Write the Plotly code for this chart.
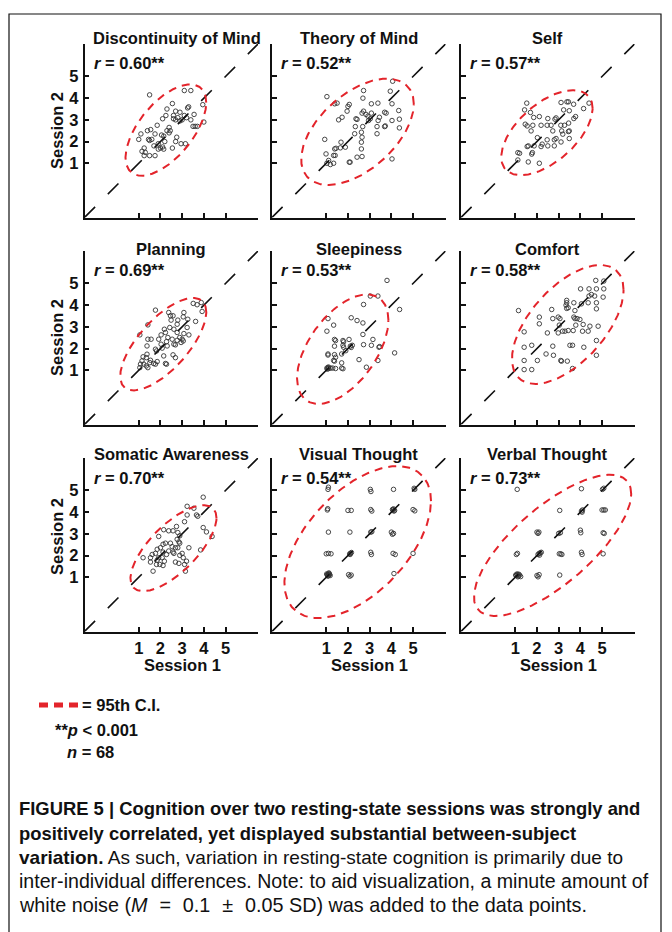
import numpy as np
import plotly.graph_objects as go

PAGE_W, PAGE_H = 672, 932
OFF = 8                      # default page body margin of the html page
W, H = PAGE_W - OFF, PAGE_H - OFF

panel_titles = ["Discontinuity of Mind", "Theory of Mind", "Self",
                "Planning", "Sleepiness", "Comfort",
                "Somatic Awareness", "Visual Thought", "Verbal Thought"]
r_values = [0.60, 0.52, 0.57, 0.69, 0.53, 0.58, 0.70, 0.54, 0.73]
tick_values = [1, 2, 3, 4, 5]
tick_labels = ["1", "2", "3", "4", "5"]
axis_range = [-1.5, 6.5]
n_subjects = 68

# Session 1 (x) / Session 2 (y) ratings per panel
disc_s1 = [1.5, 3.1, 3.4, 3.95, 4.0, 3.7, 3.5, 3.6, 3.55, 3.25, 3.3, 2.9, 3.1, 2.8, 3.0, 2.55, 2.3, 2.25, 2.1, 2.6,
           2.6, 2.7, 1.85, 1.55, 1.4, 1.1, 1.0, 1.45, 1.5, 1.75, 2.3, 2.4, 2.15, 1.9, 1.9, 2.0, 2.1, 1.7, 1.25, 1.15,
           1.3, 1.75, 1.5, 1.25, 2.15, 2.2, 2.55, 2.7, 2.95, 3.15, 2.75, 2.45, 2.4, 2.05, 1.6, 2.9, 3.2, 2.7, 3.4]
disc_s2 = [4.15, 4.35, 4.35, 3.7, 2.9, 2.7, 2.7, 2.7, 3.25, 3.55, 3.6, 3.35, 3.2, 3.1, 3.0, 3.75, 3.5, 3.2, 3.05, 3.2,
           3.05, 3.0, 2.75, 2.55, 2.5, 2.35, 2.1, 2.1, 2.05, 2.35, 2.5, 2.4, 2.25, 1.9, 1.65, 1.7, 1.75, 1.8, 1.7, 1.55,
           1.5, 1.35, 1.35, 1.35, 1.65, 2.0, 1.7, 2.0, 1.9, 1.9, 2.2, 2.5, 2.65, 2.3, 2.1, 2.95, 3.1, 3.4, 3.0]

tom_s1 = [1.03, 1.39, 1.5, 2.06, 2.0, 1.96, 1.73, 1.57, 2.72, 2.69, 3.08, 3.38, 4.06, 3.95, 4.03, 4.34, 4.37, 4.03, 4.37, 3.69,
          3.72, 3.34, 3.34, 3.69, 3.76, 3.45, 3.39, 3.08, 3.03, 2.95, 2.72, 2.65, 2.83, 2.92, 2.37, 2.42, 2.34, 2.68, 2.31, 2.62,
          2.65, 2.62, 2.62, 2.42, 2.65, 2.06, 2.1, 1.68, 1.39, 1.45, 1.65, 1.88, 0.93, 0.99, 1.11, 1.03, 1.19, 1.34, 1.41, 1.34,
          4.03]
tom_s2 = [4.07, 3.74, 3.77, 3.71, 3.62, 3.4, 3.12, 3.0, 4.35, 4.0, 3.74, 3.77, 4.78, 4.32, 3.74, 3.43, 3.03, 2.97, 2.63, 2.69,
          2.72, 2.69, 2.36, 3.35, 3.31, 3.12, 2.97, 3.31, 3.05, 2.97, 3.4, 3.31, 3.25, 3.17, 3.05, 3.02, 2.69, 2.69, 2.36, 2.43,
          2.2, 1.97, 1.66, 1.28, 1.31, 1.05, 1.05, 1.97, 1.66, 1.69, 1.71, 1.74, 2.1, 1.43, 1.13, 1.0, 0.94, 1.36, 1.36, 1.0,
          1.2]

self_s1 = [1.53, 1.43, 1.7, 1.85, 2.11, 1.46, 1.55, 1.81, 1.73, 2.19, 2.47, 2.5, 2.88, 2.83, 2.65, 3.1, 2.73, 3.11, 3.38, 3.45,
           3.69, 3.23, 3.49, 3.78, 3.7, 3.46, 3.27, 3.49, 3.45, 3.14, 3.19, 2.88, 2.8, 3.11, 3.49, 2.47, 2.5, 2.24, 2.19, 2.02,
           1.87, 1.6, 1.55, 1.79, 1.76, 1.12, 1.2, 1.12, 1.6, 2.11, 4.15, 4.4, 2.8]
self_s2 = [3.77, 3.46, 3.34, 3.11, 3.15, 2.8, 2.72, 2.75, 2.49, 2.75, 2.75, 3.06, 3.09, 3.03, 2.75, 2.75, 2.49, 3.8, 3.83, 3.83,
           3.72, 3.46, 3.42, 3.15, 3.06, 2.85, 2.75, 2.49, 2.46, 2.49, 2.34, 2.14, 2.08, 1.98, 2.14, 2.08, 1.8, 1.88, 1.77, 2.18,
           1.8, 1.8, 1.77, 1.49, 1.42, 1.49, 1.46, 1.15, 1.06, 1.0, 3.52, 3.77, 1.8]

plan_s1 = [1.77, 1.42, 1.05, 1.42, 1.57, 2.03, 2.18, 2.23, 1.92, 2.34, 2.46, 2.58, 2.49, 2.8, 2.77, 3.08, 3.05, 3.26, 3.23, 2.77,
           3.08, 3.31, 2.89, 3.0, 3.05, 2.54, 2.62, 2.69, 2.28, 2.31, 2.03, 2.08, 1.77, 1.82, 1.38, 1.38, 1.35, 1.2, 1.15, 1.08,
           1.05, 1.23, 1.35, 1.42, 1.51, 1.54, 1.69, 1.77, 1.85, 2.15, 2.23, 2.28, 2.58, 2.69, 2.77, 2.95, 3.51, 3.69, 3.88, 3.92,
           3.62, 2.43, 2.62, 2.38]
plan_s2 = [3.77, 3.09, 2.63, 2.43, 2.43, 2.63, 2.89, 2.74, 2.43, 2.51, 3.51, 3.51, 3.31, 3.31, 3.12, 3.66, 3.46, 3.35, 2.97, 2.74,
           2.69, 2.63, 2.51, 2.43, 2.35, 2.43, 2.2, 2.17, 2.32, 2.12, 2.2, 2.02, 1.97, 1.89, 2.12, 1.74, 1.58, 1.62, 1.43, 1.28,
           1.12, 1.28, 1.2, 1.12, 1.35, 1.46, 1.31, 1.28, 1.4, 1.66, 1.31, 1.28, 1.71, 1.58, 2.38, 2.28, 4.08, 4.02, 4.12, 3.71,
           3.25, 2.97, 2.89, 3.66]

sleep_s1 = [3.8, 3.03, 3.38, 2.72, 4.38, 2.15, 2.42, 2.69, 1.08, 1.34, 1.03, 2.69, 1.38, 1.43, 1.77, 1.8, 2.05, 1.38, 1.77, 1.8,
            2.72, 3.08, 3.15, 3.43, 3.46, 2.11, 1.71, 1.08, 1.08, 1.38, 1.43, 1.34, 1.38, 1.71, 2.51, 3.38, 2.85, 4.15, 1.03, 1.08,
            1.12, 1.2, 1.3, 1.43, 1.71, 1.77, 1.1, 1.05, 2.2, 2.15, 1.9]
sleep_s2 = [5.14, 4.42, 4.42, 4.03, 3.8, 3.42, 3.29, 3.18, 3.38, 3.08, 2.8, 2.65, 2.42, 2.37, 2.37, 2.31, 2.42, 2.11, 2.15, 2.06,
            2.18, 2.15, 2.42, 2.06, 2.09, 2.11, 1.75, 1.75, 1.7, 1.72, 1.6, 1.45, 1.42, 1.34, 1.49, 1.45, 1.14, 1.8, 1.1, 1.12,
            1.08, 1.1, 1.1, 1.08, 1.1, 1.07, 1.15, 1.05, 2.15, 2.05, 1.9]

comf_s1 = [1.15, 1.41, 1.41, 1.76, 1.41, 2.02, 1.41, 1.76, 2.11, 2.11, 2.48, 2.42, 2.76, 2.73, 2.68, 2.73, 2.98, 3.06, 3.03, 2.98,
           3.18, 3.29, 3.1, 3.13, 3.4, 3.37, 3.37, 3.34, 3.37, 3.44, 3.7, 3.75, 3.7, 3.75, 3.85, 3.98, 3.79, 3.44, 3.67, 4.13,
           4.44, 4.82, 4.1, 4.36, 4.01, 4.4, 4.05, 4.36, 4.51, 4.4, 4.66, 4.74, 4.71, 5.08, 5.05, 4.74, 4.74, 5.08, 3.52, 3.64,
           4.16, 4.74, 4.74, 3.64]
comf_s2 = [3.75, 2.77, 2.06, 2.15, 1.45, 1.45, 1.03, 1.03, 3.45, 3.14, 2.72, 1.75, 1.69, 2.11, 3.8, 3.38, 3.45, 3.38, 3.08, 2.72,
           2.8, 2.8, 1.45, 1.42, 1.42, 4.22, 4.11, 4.0, 3.85, 3.88, 4.11, 3.75, 3.45, 3.38, 3.38, 3.34, 3.08, 2.83, 2.83, 3.11,
           3.03, 3.03, 2.8, 2.8, 4.75, 4.75, 4.06, 4.11, 4.49, 4.42, 4.42, 4.75, 5.14, 4.75, 4.37, 4.11, 3.83, 5.11, 2.15, 2.15,
           2.06, 2.37, 1.69, 1.08]

soma_s1 = [3.97, 3.54, 3.23, 3.66, 3.72, 3.11, 3.97, 4.12, 4.38, 3.85, 3.31, 2.74, 2.58, 2.38, 2.15, 2.8, 2.89, 1.92, 2.23, 2.46,
           2.77, 2.85, 2.89, 2.54, 2.69, 2.8, 2.12, 2.0, 1.85, 1.77, 2.12, 2.28, 2.08, 2.18, 2.62, 2.89, 3.0, 3.05, 3.2, 2.69,
           2.85, 2.38, 2.58, 1.62, 1.54, 1.54, 1.92, 1.85, 1.82, 1.97, 2.12, 1.2, 1.66, 3.11, 3.15, 3.23]
soma_s2 = [4.69, 4.18, 3.87, 3.87, 3.81, 3.56, 3.29, 3.09, 2.88, 2.26, 2.36, 3.34, 3.14, 3.14, 3.19, 3.06, 2.91, 2.88, 2.57, 2.57,
           2.75, 2.63, 2.57, 2.41, 2.36, 2.36, 2.52, 2.36, 2.29, 2.1, 2.16, 2.05, 1.9, 1.74, 2.1, 2.01, 2.1, 1.9, 1.74, 1.7,
           1.64, 2.21, 2.16, 2.05, 1.9, 1.7, 1.9, 1.79, 1.59, 1.59, 1.54, 1.9, 1.28, 1.59, 1.28, 4.27]

vis_s1 = [1.08, 1.10, 1.05, 1.07, 1.10, 1.00, 1.10, 1.22,
          1.05, 1.10, 1.15, 1.08, 1.12, 1.18, 1.02, 1.10, 1.14, 1.06,
          2.00, 2.15, 2.09, 2.08, 2.12, 2.10, 2.16, 2.03, 2.15, 2.09,
          3.03, 3.06, 3.05, 3.10, 3.10, 3.05, 3.05, 3.08,
          4.10, 4.08, 4.12, 4.05, 4.10, 4.15, 4.00, 4.10, 4.05, 4.08, 4.18, 4.12,
          5.05, 5.08, 5.00, 5.08, 5.00]
vis_s2 = [5.05, 5.15, 4.10, 4.16, 3.08, 2.08, 2.10, 2.08,
          1.10, 1.15, 1.12, 1.05, 1.20, 1.08, 1.15, 1.08, 1.16, 1.13,
          4.08, 4.08, 3.08, 2.08, 2.10, 2.05, 2.14, 1.12, 1.10, 1.05,
          5.05, 4.95, 4.12, 4.05, 3.10, 3.08, 2.15, 2.05,
          5.05, 4.10, 4.05, 4.12, 4.15, 4.08, 3.08, 3.02, 2.98, 2.10, 2.05, 1.17,
          5.10, 5.05, 4.12, 4.06, 2.10]

verb_s1 = [1.09, 1.05, 1.10,
           1.05, 1.10, 1.15, 1.08, 1.20, 1.12, 1.02, 1.16, 1.25,
           2.00, 2.09, 2.05, 2.10, 2.15, 2.05, 2.20, 2.12, 2.00, 2.10, 2.05,
           3.05, 3.00, 3.08, 3.03, 3.10, 3.15, 3.05,
           4.05, 4.05, 4.10, 4.08, 4.00, 4.02, 4.05, 4.08,
           5.02, 5.08, 5.00, 5.08, 5.15, 5.05, 5.10, 5.05]
verb_s2 = [5.05, 2.05, 2.10,
           1.08, 1.12, 1.05, 1.15, 1.10, 1.02, 1.10, 1.14, 1.03,
           3.08, 3.08, 3.02, 2.10, 2.12, 2.05, 2.15, 2.02, 1.08, 1.12, 1.02,
           4.08, 3.02, 3.05, 2.08, 2.08, 2.05, 1.10,
           5.08, 4.05, 4.10, 4.00, 3.17, 3.05, 2.15, 2.05,
           5.05, 5.10, 4.10, 4.10, 4.10, 3.05, 3.02, 2.08]

session1 = [disc_s1, tom_s1, self_s1, plan_s1, sleep_s1, comf_s1, soma_s1, vis_s1, verb_s1]
session2 = [disc_s2, tom_s2, self_s2, plan_s2, sleep_s2, comf_s2, soma_s2, vis_s2, verb_s2]

# 95% confidence ellipse parameters (centre, SDs) per panel; correlation = r
ell_cx = [2.25, 2.44, 2.46, 2.13, 1.76, 3.42, 2.60, 2.45, 2.72]
ell_cy = [2.53, 2.45, 2.41, 2.20, 1.97, 3.11, 2.34, 2.62, 2.47]
ell_sx = [0.76, 1.06, 0.86, 0.81, 0.86, 1.05, 0.81, 1.38, 1.48]
ell_sy = [0.86, 1.00, 0.80, 0.87, 1.03, 1.12, 0.81, 1.43, 1.33]
chi2_95 = 5.991

# ---------------- layout geometry (page pixels) ----------------
col_x0 = [84.5, 272.0, 461.0]
row_y0 = [217.5, 424.5, 631.5]
unit = 21.7
side = (axis_range[1] - axis_range[0]) * unit


def px(x):
    return (x - OFF) / W


def py(y):
    return 1 - (y - OFF) / H


FONT = "Liberation Sans, Arial, Helvetica, sans-serif"
BLACK = "#111111"
RED = "#e3242b"

fig = go.Figure()
annotations = []
t = np.linspace(0, 2 * np.pi, 240)

for i in range(9):
    r, c = divmod(i, 3)
    sfx = "" if i == 0 else str(i + 1)
    xd = [px(col_x0[c]), px(col_x0[c] + side)]
    yd = [py(row_y0[r]), py(row_y0[r] - side)]
    common = dict(range=axis_range, tickvals=tick_values, ticktext=tick_labels,
                  ticks="inside", ticklen=5, tickwidth=1.5, tickcolor=BLACK,
                  showline=True, linewidth=1.5, linecolor=BLACK,
                  showgrid=False, zeroline=False, fixedrange=True,
                  tickfont=dict(family=FONT, size=16.5, color=BLACK, weight="bold"))
    fig.layout["xaxis" + sfx] = dict(domain=xd, anchor="y" + sfx,
                                     showticklabels=(r == 2), ticklabelstandoff=1, **common)
    fig.layout["yaxis" + sfx] = dict(domain=yd, anchor="x" + sfx,
                                     showticklabels=(c == 0), ticklabelstandoff=1, **common)

    # data points
    fig.add_trace(go.Scatter(x=session1[i], y=session2[i], mode="markers",
                             xaxis="x" + sfx, yaxis="y" + sfx, showlegend=False,
                             marker=dict(symbol="circle-open", size=4.5, color="#333333",
                                         line=dict(width=0.9))))
    # identity line
    fig.add_trace(go.Scatter(x=axis_range, y=axis_range, mode="lines",
                             xaxis="x" + sfx, yaxis="y" + sfx, showlegend=False,
                             line=dict(color=BLACK, width=1.6, dash="15px,18px")))
    # 95% ellipse
    rv = r_values[i]
    cov = np.array([[ell_sx[i] ** 2, rv * ell_sx[i] * ell_sy[i]],
                    [rv * ell_sx[i] * ell_sy[i], ell_sy[i] ** 2]])
    L = np.linalg.cholesky(cov)
    pts = np.sqrt(chi2_95) * (L @ np.vstack([np.cos(t), np.sin(t)]))
    fig.add_trace(go.Scatter(x=ell_cx[i] + pts[0], y=ell_cy[i] + pts[1], mode="lines",
                             xaxis="x" + sfx, yaxis="y" + sfx, showlegend=False,
                             line=dict(color=RED, width=2, dash="8px,6px")))

    # panel title
    title_y = [38, 249, 454][r]
    annotations.append(dict(text="<b>%s</b>" % panel_titles[i], xref="paper", yref="paper",
                            x=px(col_x0[c] + side / 2), y=py(title_y), xanchor="center", yanchor="middle",
                            xshift=6 if i == 0 else 0,
                            showarrow=False, font=dict(family=FONT, size=16.5, color=BLACK)))
    # r label
    r_y = [63, 270, 478][r]
    annotations.append(dict(text="<b><i>r</i> = %.2f**</b>" % rv, xref="paper", yref="paper",
                            x=px(col_x0[c] + 7), y=py(r_y), xanchor="left", yanchor="middle",
                            showarrow=False, font=dict(family=FONT, size=16.5, color=BLACK)))
    if c == 0:
        annotations.append(dict(text="<b>Session 2</b>", xref="paper", yref="paper", textangle=-90,
                                x=px(57), y=py([131, 338, 537][r]), xanchor="center", yanchor="middle",
                                showarrow=False, font=dict(family=FONT, size=16.5, color=BLACK)))
    if r == 2:
        annotations.append(dict(text="<b>Session 1</b>", xref="x" + sfx, yref="paper",
                                x=3, y=py(665), xanchor="center", yanchor="middle",
                                showarrow=False, font=dict(family=FONT, size=16.5, color=BLACK)))

# legend block
legend_notes = [
    dict(text="<b>= 95th C.I.</b>", x=px(80), y=py(705)),
    dict(text="<b>**<i>p</i> &lt; 0.001</b>", x=px(53), y=py(730)),
    dict(text="<b><i>n</i> = %d</b>" % n_subjects, x=px(65), y=py(752)),
]
for a in legend_notes:
    a.update(xref="paper", yref="paper", xanchor="left", yanchor="middle", showarrow=False,
             font=dict(family=FONT, size=16.5, color=BLACK))
annotations += legend_notes

# caption
MSP = "&#8201;&#8201;&#8201;"
caption_lines = [
    "<b>FIGURE 5 | Cognition over two resting-state sessions was strongly and</b>",
    "<b>positively correlated, yet displayed substantial between-subject</b>",
    "<b>variation.</b> As such, variation in resting-state cognition is primarily due to",
    "inter-individual differences. Note: to aid visualization, a minute amount of",
    "white noise (<i>M</i>" + MSP + "=" + MSP + "0.1" + MSP + "±" + MSP + "0.05 SD) was added to the data points.",
]
caption_y = [808, 833, 857, 881, 905]
caption_size = [18.4, 18.4, 19, 19.6, 19.8]
for line, yy, fs in zip(caption_lines, caption_y, caption_size):
    annotations.append(dict(text=line, xref="paper", yref="paper", x=px(17), y=py(yy),
                            xanchor="left", yanchor="middle", showarrow=False,
                            font=dict(family=FONT, size=fs, color=BLACK)))

shapes = [
    dict(type="line", xref="paper", yref="paper", x0=px(39), x1=px(78), y0=py(705), y1=py(705),
         line=dict(color=RED, width=5, dash="9px,6px")),
    dict(type="rect", xref="paper", yref="paper", x0=px(9), x1=px(661), y0=py(14), y1=py(950),
         line=dict(color=BLACK, width=1.2)),
]

fig.update_layout(width=W, height=H, autosize=False, margin=dict(l=0, r=0, t=0, b=0),
                  paper_bgcolor="white", plot_bgcolor="rgba(0,0,0,0)",
                  annotations=annotations, shapes=shapes, showlegend=False)

fig.write_html("out.html", config={"displayModeBar": False})
